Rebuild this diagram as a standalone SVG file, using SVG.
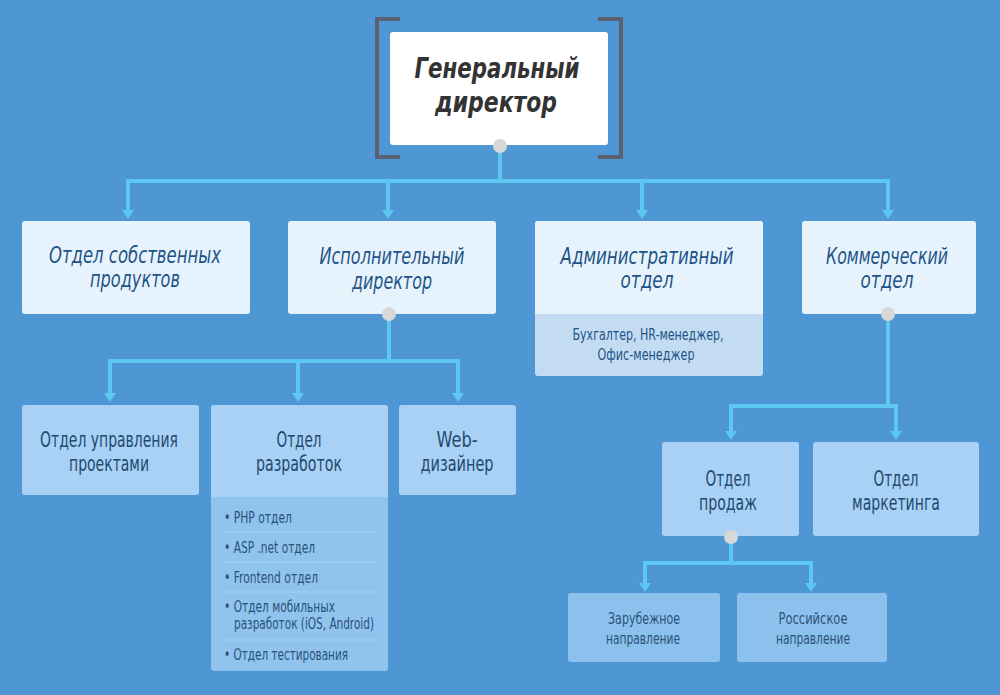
<svg xmlns="http://www.w3.org/2000/svg" width="1000" height="695" viewBox="0 0 1000 695">
<defs>
<style>
.bg{fill:#4f97d4}
.l2{fill:#e7f3fc}
.l2s{fill:#c3dcf2}
.l3{fill:#a9d1f5}
.l3s{fill:#90c3ee}
.l4{fill:#8dc1ed}
.con{fill:none;stroke:#5cc7f0;stroke-width:4}
.dot{fill:#d8d8d8}
text{font-family:"DejaVu Sans Condensed","Liberation Sans",sans-serif}
.t1{font-style:italic;font-weight:bold;font-size:28px;fill:#333;text-anchor:middle}
.t2{font-style:italic;font-size:23px;fill:#1e5387;text-anchor:middle}
.t2s{font-size:15px;fill:#1e5387;text-anchor:middle}
.t3{font-size:21px;fill:#234a70;text-anchor:middle}
.t4{font-size:15px;fill:#2a5278}
.t4c{font-size:15px;fill:#2a5278;text-anchor:middle}
.sep{stroke:#a6d0f2;stroke-width:1}
.br{fill:none;stroke:#5a6272;stroke-width:4}
</style>
</defs>
<rect class="bg" x="0" y="0" width="1000" height="695"/>

<g id="connectors">
<path class="con" d="M500,146 V181 M126,181 H890"/>
<path class="con" d="M128,181 V212"/>
<path class="con" d="M388,181 V212"/>
<path class="con" d="M642,181 V212"/>
<path class="con" d="M888,181 V212"/>
<path class="con" d="M389,314 V361 M108,361 H460"/>
<path class="con" d="M110,361 V395"/>
<path class="con" d="M298,361 V395"/>
<path class="con" d="M458,361 V395"/>
<path class="con" d="M888,314 V406 M729,406 H898"/>
<path class="con" d="M731,406 V433"/>
<path class="con" d="M896,406 V433"/>
<path class="con" d="M731,537 V563 M643,563 H813"/>
<path class="con" d="M645,563 V585"/>
<path class="con" d="M811,563 V585"/>
<g fill="#5cc7f0">
<path d="M122,210 H134 L128,219 Z"/>
<path d="M382,210 H394 L388,219 Z"/>
<path d="M636,210 H648 L642,219 Z"/>
<path d="M882,210 H894 L888,219 Z"/>
<path d="M104,393 H116 L110,402 Z"/>
<path d="M292,393 H304 L298,402 Z"/>
<path d="M452,393 H464 L458,402 Z"/>
<path d="M725,431 H737 L731,440 Z"/>
<path d="M890,431 H902 L896,440 Z"/>
<path d="M639,583 H651 L645,592 Z"/>
<path d="M805,583 H817 L811,592 Z"/>
</g>
</g>

<g id="ceo">
<path class="br" d="M400,19 H377 V157 H400"/>
<path class="br" d="M598,19 H621 V157 H598"/>
<rect x="390" y="32" width="218" height="113" rx="3" fill="#ffffff"/>
<text class="t1" x="497" y="78" textLength="165" lengthAdjust="spacingAndGlyphs">Генеральный</text>
<text class="t1" x="496" y="112" textLength="122" lengthAdjust="spacingAndGlyphs">директор</text>
<circle class="dot" cx="500" cy="146" r="7"/>
</g>

<g id="own-products">
<rect class="l2" x="22" y="221" width="228" height="93" rx="3"/>
<text class="t2" x="135" y="263" textLength="172" lengthAdjust="spacingAndGlyphs">Отдел собственных</text>
<text class="t2" x="135" y="287" textLength="90" lengthAdjust="spacingAndGlyphs">продуктов</text>
</g>

<g id="exec-director">
<rect class="l2" x="288" y="221" width="208" height="93" rx="3"/>
<text class="t2" x="392" y="264" textLength="145" lengthAdjust="spacingAndGlyphs">Исполнительный</text>
<text class="t2" x="392" y="289" textLength="80" lengthAdjust="spacingAndGlyphs">директор</text>
<circle class="dot" cx="389" cy="314" r="7"/>
</g>

<g id="admin">
<rect class="l2s" x="535" y="221" width="228" height="155" rx="3"/>
<rect class="l2" x="535" y="221" width="228" height="93" rx="3"/>
<rect class="l2" x="535" y="300" width="228" height="14"/>
<text class="t2" x="647" y="264" textLength="173" lengthAdjust="spacingAndGlyphs">Административный</text>
<text class="t2" x="647" y="288" textLength="53" lengthAdjust="spacingAndGlyphs">отдел</text>
<text class="t2s" x="648" y="340" textLength="151" lengthAdjust="spacingAndGlyphs">Бухгалтер, HR-менеджер,</text>
<text class="t2s" x="646" y="360" textLength="97" lengthAdjust="spacingAndGlyphs">Офис-менеджер</text>
</g>

<g id="commercial">
<rect class="l2" x="802" y="221" width="174" height="93" rx="3"/>
<text class="t2" x="887" y="264" textLength="122" lengthAdjust="spacingAndGlyphs">Коммерческий</text>
<text class="t2" x="887" y="288" textLength="53" lengthAdjust="spacingAndGlyphs">отдел</text>
<circle class="dot" cx="888" cy="314" r="7"/>
</g>

<g id="pm">
<rect class="l3" x="22" y="405" width="177" height="90" rx="3"/>
<text class="t3" x="109" y="447" textLength="138" lengthAdjust="spacingAndGlyphs">Отдел управления</text>
<text class="t3" x="109" y="471" textLength="80" lengthAdjust="spacingAndGlyphs">проектами</text>
</g>

<g id="dev">
<rect class="l3s" x="211" y="405" width="177" height="266" rx="3"/>
<rect class="l3" x="211" y="405" width="177" height="92" rx="3"/>
<rect class="l3" x="211" y="487" width="177" height="10"/>
<text class="t3" x="299" y="447" textLength="45" lengthAdjust="spacingAndGlyphs">Отдел</text>
<text class="t3" x="299" y="471" textLength="86" lengthAdjust="spacingAndGlyphs">разработок</text>
<text class="t4" x="224" y="523" textLength="68" lengthAdjust="spacingAndGlyphs">• PHP отдел</text>
<line class="sep" x1="222" y1="532" x2="376" y2="532"/>
<text class="t4" x="224" y="553" textLength="91" lengthAdjust="spacingAndGlyphs">• ASP .net отдел</text>
<line class="sep" x1="222" y1="562" x2="376" y2="562"/>
<text class="t4" x="224" y="583" textLength="94" lengthAdjust="spacingAndGlyphs">• Frontend отдел</text>
<line class="sep" x1="222" y1="592" x2="376" y2="592"/>
<text class="t4" x="224" y="612" textLength="111" lengthAdjust="spacingAndGlyphs">• Отдел мобильных</text>
<text class="t4" x="234" y="629" textLength="140" lengthAdjust="spacingAndGlyphs">разработок (iOS, Android)</text>
<line class="sep" x1="222" y1="640" x2="376" y2="640"/>
<text class="t4" x="224" y="660" textLength="124" lengthAdjust="spacingAndGlyphs">• Отдел тестирования</text>
</g>

<g id="web">
<rect class="l3" x="399" y="405" width="117" height="90" rx="3"/>
<text class="t3" x="457" y="447" textLength="41" lengthAdjust="spacingAndGlyphs">Web-</text>
<text class="t3" x="457" y="471" textLength="73" lengthAdjust="spacingAndGlyphs">дизайнер</text>
</g>

<g id="sales">
<rect class="l3" x="662" y="442" width="137" height="94" rx="3"/>
<text class="t3" x="728" y="486" textLength="45" lengthAdjust="spacingAndGlyphs">Отдел</text>
<text class="t3" x="728" y="510" textLength="58" lengthAdjust="spacingAndGlyphs">продаж</text>
<circle class="dot" cx="731" cy="537" r="7"/>
</g>

<g id="marketing">
<rect class="l3" x="813" y="442" width="166" height="94" rx="3"/>
<text class="t3" x="896" y="486" textLength="45" lengthAdjust="spacingAndGlyphs">Отдел</text>
<text class="t3" x="896" y="510" textLength="88" lengthAdjust="spacingAndGlyphs">маркетинга</text>
</g>

<g id="foreign">
<rect class="l4" x="568" y="593" width="152" height="69" rx="3"/>
<text class="t4c" x="644" y="624" textLength="72" lengthAdjust="spacingAndGlyphs">Зарубежное</text>
<text class="t4c" x="643" y="644" textLength="74" lengthAdjust="spacingAndGlyphs">направление</text>
</g>

<g id="russian">
<rect class="l4" x="737" y="593" width="150" height="69" rx="3"/>
<text class="t4c" x="813" y="624" textLength="69" lengthAdjust="spacingAndGlyphs">Российское</text>
<text class="t4c" x="813" y="644" textLength="74" lengthAdjust="spacingAndGlyphs">направление</text>
</g>
</svg>
